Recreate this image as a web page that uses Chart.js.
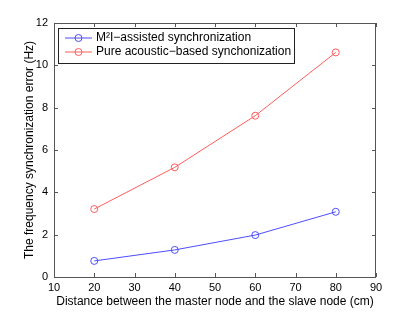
<!DOCTYPE html>
<html>
<head>
<meta charset="utf-8">
<script src="https://cdn.jsdelivr.net/npm/chart.js@4"></script>
<style>
  html, body { margin: 0; padding: 0; background: #fff; }
  #wrap { width: 415px; height: 313px; }
</style>
</head>
<body>
<div id="wrap"><canvas id="chart" width="415" height="313"></canvas></div>
<script>
// данные
const distances = [20, 40, 60, 80];
const m2iError = [0.76, 1.28, 1.98, 3.08];
const acousticError = [3.21, 5.18, 7.62, 10.61];
const seriesNames = ['M\u00B2I\u2212assisted synchronization', 'Pure acoustic\u2212based synchonization'];
const xTicks = [10, 20, 30, 40, 50, 60, 70, 80, 90];
const yTicks = [0, 2, 4, 6, 8, 10, 12];

const FONT = 'Liberation Sans, Arial, sans-serif';
const BLUE = '#4d4dff';
const RED = '#ff5c5c';

// рамка и засечки в стиле MATLAB
const boxPlugin = {
  id: 'box',
  afterDatasetsDraw(chart) {
    const { ctx, chartArea: a, scales } = chart;
    ctx.save();
    ctx.strokeStyle = '#555';
    ctx.lineWidth = 1;
    ctx.strokeRect(a.left + 0.5, a.top + 0.5, a.right - a.left - 1, a.bottom - a.top);
    ctx.beginPath();
    xTicks.forEach(v => {
      const x = Math.round(scales.x.getPixelForValue(v)) + 0.5;
      ctx.moveTo(x, a.bottom); ctx.lineTo(x, a.bottom - 4);
      ctx.moveTo(x, a.top); ctx.lineTo(x, a.top + 4);
    });
    yTicks.forEach(v => {
      const y = Math.round(scales.y.getPixelForValue(v)) + 0.5;
      ctx.moveTo(a.left, y); ctx.lineTo(a.left + 4, y);
      ctx.moveTo(a.right, y); ctx.lineTo(a.right - 4, y);
    });
    ctx.stroke();

    // легенда
    const lx = a.left + 4, ly = a.top + 5, lw = 236, lh = 35;
    ctx.fillStyle = '#fff';
    ctx.fillRect(lx, ly, lw, lh);
    ctx.strokeStyle = '#222';
    ctx.strokeRect(lx + 0.5, ly + 0.5, lw, lh);
    const colors = [BLUE, RED];
    ctx.font = '12px ' + FONT;
    ctx.textBaseline = 'middle';
    seriesNames.forEach((name, i) => {
      const yy = ly + 10 + i * 14;
      ctx.strokeStyle = colors[i];
      ctx.beginPath();
      ctx.moveTo(lx + 7, yy); ctx.lineTo(lx + 34, yy);
      ctx.stroke();
      ctx.beginPath();
      ctx.arc(lx + 20.5, yy, 3.5, 0, Math.PI * 2);
      ctx.stroke();
      ctx.fillStyle = '#000';
      ctx.fillText(name, lx + 38, yy);
    });
    ctx.restore();
  }
};

new Chart(document.getElementById('chart'), {
  type: 'line',
  data: {
    datasets: [
      {
        label: seriesNames[0],
        data: distances.map((d, i) => ({ x: d, y: m2iError[i] })),
        borderColor: BLUE,
        borderWidth: 1,
        pointStyle: 'circle',
        pointRadius: 3.5,
        pointBorderColor: BLUE,
        pointBackgroundColor: 'rgba(0,0,0,0)',
        pointBorderWidth: 1
      },
      {
        label: seriesNames[1],
        data: distances.map((d, i) => ({ x: d, y: acousticError[i] })),
        borderColor: RED,
        borderWidth: 1,
        pointStyle: 'circle',
        pointRadius: 3.5,
        pointBorderColor: RED,
        pointBackgroundColor: 'rgba(0,0,0,0)',
        pointBorderWidth: 1
      }
    ]
  },
  options: {
    responsive: false,
    animation: false,
    layout: { padding: { left: 22, right: 39, top: 23, bottom: 0 } },
    plugins: { legend: { display: false }, tooltip: { enabled: false } },
    scales: {
      x: {
        type: 'linear',
        min: 10, max: 90,
        afterBuildTicks: s => { s.ticks = xTicks.map(v => ({ value: v })); },
        afterFit: s => { s.height = 36; },
        grid: { display: false },
        border: { display: false },
        ticks: { color: '#000', font: { family: FONT, size: 11 }, padding: -4, maxRotation: 0 },
        title: { display: true, text: 'Distance between the master node and the slave node (cm)', color: '#000', font: { family: FONT, size: 12 }, padding: { top: 0, bottom: 4 } }
      },
      y: {
        min: 0, max: 12,
        afterBuildTicks: s => { s.ticks = yTicks.map(v => ({ value: v })); },
        afterFit: s => { s.width = 32; },
        grid: { display: false },
        border: { display: false },
        ticks: { color: '#000', font: { family: FONT, size: 11 }, padding: -2 },
        title: { display: true, text: 'The frequency synchronization error (Hz)', color: '#000', font: { family: FONT, size: 12 }, padding: 0 }
      }
    }
  },
  plugins: [boxPlugin]
});
</script>
</body>
</html>
